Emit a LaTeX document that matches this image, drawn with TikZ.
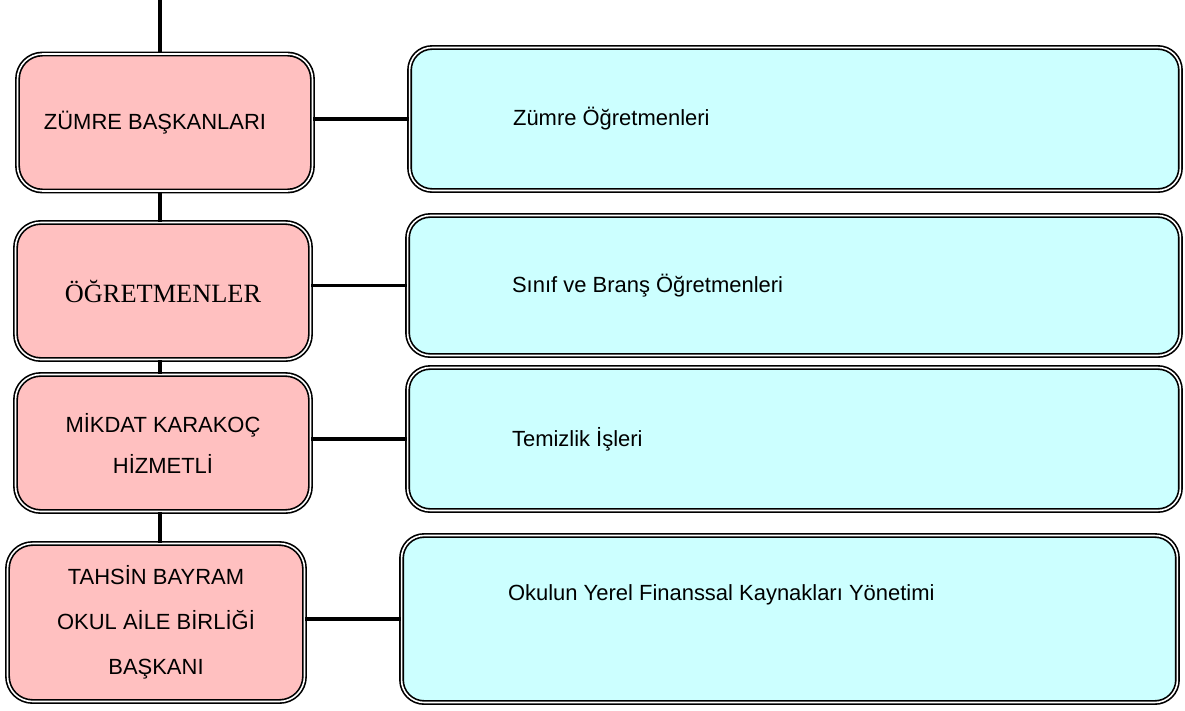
\documentclass[tikz,border=0pt]{standalone}
\usepackage{fontspec}
\setmainfont{Liberation Sans}
\newfontfamily\timesfont{Liberation Serif}
\usetikzlibrary{positioning}
\definecolor{pinkfill}{RGB}{255,192,192}
\definecolor{bluefill}{RGB}{204,255,255}
\tikzset{
  frame/.style={draw, double, line width=0.95pt, double distance=0.9pt},
  pinkbox/.style={frame, fill=pinkfill, rounded corners=0.5cm, minimum width=5.9cm, minimum height=2.74cm, align=center, font=\fontsize{12.5}{15}\selectfont},
  bluebox/.style={frame, fill=bluefill, rounded corners=0.45cm, minimum width=15.46cm, minimum height=2.86cm},
  bluetext/.style={inner sep=0pt, anchor=west, font=\fontsize{12.5}{15}\selectfont},
  link/.style={line width=1.9pt}
}
\begin{document}
\begin{tikzpicture}[x=0.02cm, y=-0.02cm]
\useasboundingbox (0,0) rectangle (1185,710);
\coordinate (top) at (160,0);
\node [pinkbox] (p1) at (165,122.5) {ZÜMRE BAŞKANLARI\hspace*{0.4cm}};
\node [pinkbox, font=\timesfont\fontsize{15}{18}\selectfont] (p2) at (163,291) {ÖĞRETMENLER};
\node [pinkbox, font=\fontsize{12.5}{23.3}\selectfont] (p3) at (163,443) {MİKDAT KARAKOÇ\\HİZMETLİ};
\node [pinkbox, minimum width=5.94cm, minimum height=3.16cm, font=\fontsize{12.5}{25.5}\selectfont] (p4) at (156,622.5) {TAHSİN BAYRAM\\OKUL AİLE BİRLİĞİ\\BAŞKANI};
\node [bluebox, minimum width=15.42cm] (b1) at (795,119) {};
\node [bluebox, minimum height=2.8cm] (b2) at (794,285.5) {};
\node [bluebox] (b3) at (794,439) {};
\node [bluebox, minimum width=15.52cm, minimum height=3.34cm] (b4) at (789.5,619) {};
\node [bluetext, right=2.08cm of b1.west] (t1) {Zümre Öğretmenleri};
\node [bluetext, right=2.1cm of b2.west] (t2) {Sınıf ve Branş Öğretmenleri};
\node [bluetext, right=2.1cm of b3.west] (t3) {Temizlik İşleri};
\node [bluetext] (t4) at ([xshift=2.14cm, yshift=0.48cm]b4.west) {Okulun Yerel Finanssal Kaynakları Yönetimi};
\draw [link] (top) -- (top |- p1.north);
\draw [link] (top |- p1.south) -- (top |- p2.north);
\draw [link] (top |- p2.south) -- (top |- p3.north);
\draw [link] (top |- p3.south) -- (top |- p4.north);
\draw [link] (b1.west -| p1.east) -- (b1.west);
\draw [link] (b2.west -| p2.east) -- (b2.west);
\draw [link] (b3.west -| p3.east) -- (b3.west);
\draw [link] (b4.west -| p4.east) -- (b4.west);
\end{tikzpicture}
\end{document}
